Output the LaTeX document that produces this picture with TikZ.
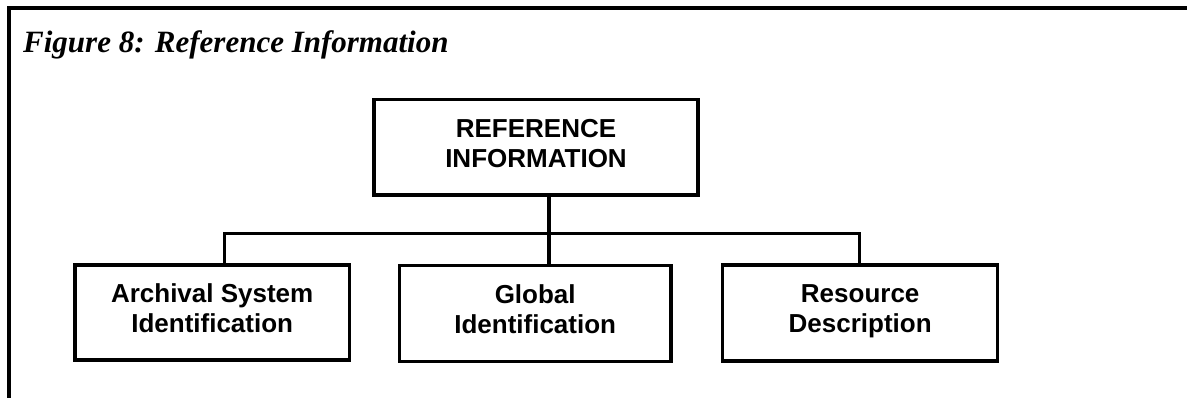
\documentclass[tikz,border=0pt]{standalone}
\usepackage{fontspec}
\setmainfont{Liberation Serif}
\newfontfamily\boxfont{Liberation Sans}
\newcommand{\linestrut}{\rule[-10pt]{0pt}{30pt}}
\begin{document}
\begin{tikzpicture}[x=1pt,y=-1pt,
  framestyle/.style={line width=4.3pt},
  boxstyle/.style={draw, line width=3.3pt, inner sep=0pt, align=center,
    font=\boxfont\bfseries\fontsize{26}{30}\selectfont},
  linkstyle/.style={line width=3.3pt},
  hubstyle/.style={line width=4pt},
  titlestyle/.style={anchor=base west, inner sep=0pt,
    font=\bfseries\itshape\fontsize{31}{36}\selectfont}]
\useasboundingbox (0,0) rectangle (1187,398);
% frame
\draw[framestyle] (8.8,398) -- (8.8,7.8) -- (1187,7.8);
% title
\node[titlestyle] (title) at (23,53) {Figure 8: Reference Information};
% boxes
\node[boxstyle, minimum width=324pt, minimum height=95.7pt] (top) at (536,147.2)
  {\linestrut REFERENCE\\\linestrut INFORMATION};
\node[boxstyle, minimum width=274.3pt, minimum height=95pt] (arch) at (212.2,312.5)
  {\linestrut Archival System\\\linestrut Identification};
\node[boxstyle, minimum width=271.7pt, minimum height=96pt] (glob) at (535.2,313.6)
  {\linestrut Global\\\linestrut Identification};
\node[boxstyle, minimum width=275pt, minimum height=96pt] (res) at (860.2,313)
  {\linestrut Resource\\\linestrut Description};
% connectors
\coordinate (hl) at (224.3,233.3);
\coordinate (hub) at (548.7,233.3);
\coordinate (hr) at (859.3,233.3);
\draw[linkstyle] (arch.north -| hl) -- (hl) -- (hr) -- (res.north -| hr);
\draw[hubstyle] (top.south -| hub) -- (glob.north -| hub);
\end{tikzpicture}
\end{document}
